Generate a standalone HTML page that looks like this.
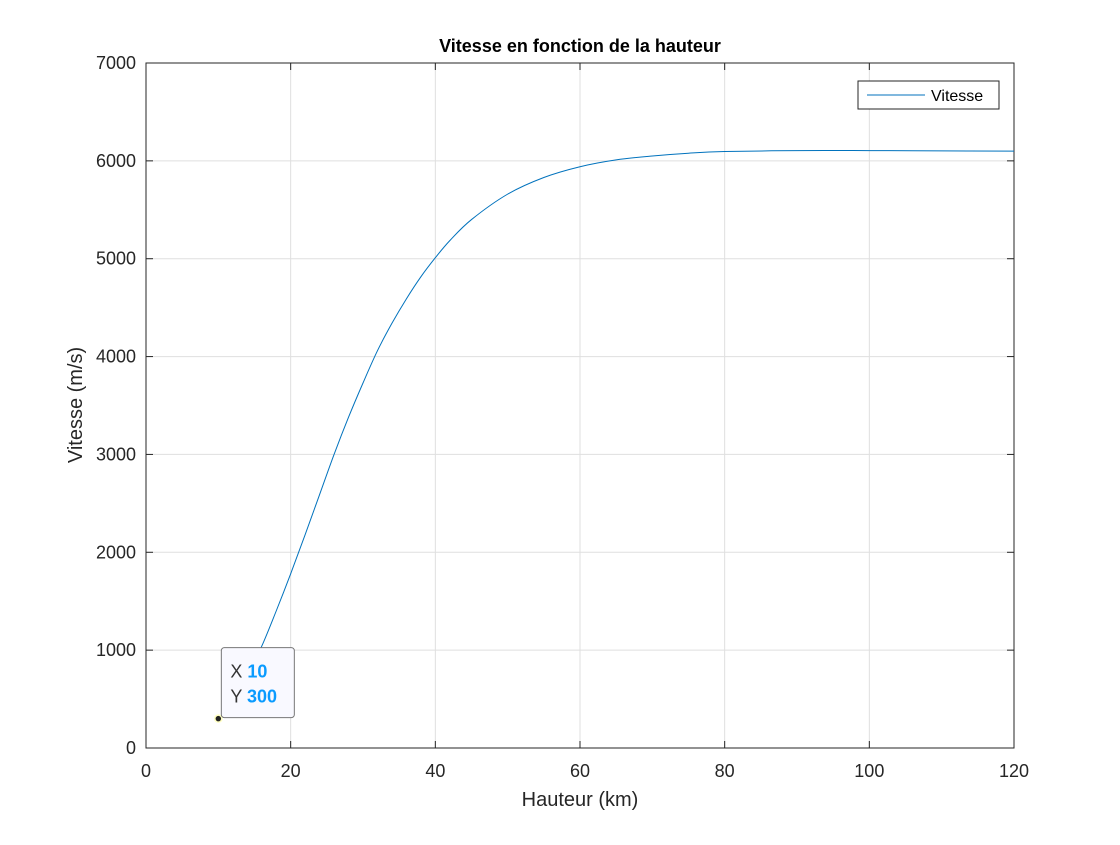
<!DOCTYPE html>
<html><head><meta charset="utf-8"><style>
body{margin:0;background:#fff;font-family:"Liberation Sans",sans-serif}
svg text{font-family:"Liberation Sans",sans-serif}
</style></head><body>
<svg id="c" width="1120" height="840" xmlns="http://www.w3.org/2000/svg">
<rect width="1120" height="840" fill="#fff"/>
<g id="grid"></g>
<rect x="146" y="63" width="868" height="685" fill="none" stroke="#262626" stroke-width="1"/>
<g id="ticks"></g>
<path id="line" fill="none" stroke="#0072bd" stroke-width="1"/>
<text x="580" y="52" text-anchor="middle" font-size="18" font-weight="bold" fill="#000">Vitesse en fonction de la hauteur</text>
<text x="580" y="806" text-anchor="middle" font-size="20" fill="#262626">Hauteur (km)</text>
<text transform="translate(82,405) rotate(-90)" text-anchor="middle" font-size="20" fill="#262626">Vitesse (m/s)</text>
<g>
<rect x="858" y="81" width="141" height="28" fill="#fff" stroke="#262626"/>
<line x1="867" y1="95" x2="925" y2="95" stroke="#0072bd"/>
<text x="931" y="101" font-size="16" fill="#000">Vitesse</text>
</g>
<g id="tip">
<circle id="tipdot" r="3.5" fill="#222" stroke="#ffffc0" stroke-width="1.5"/>
<rect id="tiprect" width="73" height="70" rx="3" fill="#f9f9ff" stroke="#777"/>
<text id="tx" font-size="18" fill="#333"><tspan>X </tspan><tspan id="txv" fill="#0a9bff" font-weight="bold"></tspan></text>
<text id="ty" font-size="18" fill="#333"><tspan>Y </tspan><tspan id="tyv" fill="#0a9bff" font-weight="bold"></tspan></text>
</g>
</svg>
<script>
const xTicks=[0,20,40,60,80,100,120];
const yTicks=[0,1000,2000,3000,4000,5000,6000,7000];
const hauteur=[10,12,14,16,18,20,22,24,26,28,30,32,34,36,38,40,42,45,50,55,60,65,70,75,80,90,100,110,120];
const vitesse=[300,470,740,1040,1400,1780,2180,2590,3000,3380,3730,4060,4340,4590,4815,5010,5185,5400,5660,5830,5940,6010,6050,6078,6095,6105,6105,6102,6100];
const tipPoint=[10,300];
const X=v=>146+v/120*868, Y=v=>748-v/7000*685;
const ns="http://www.w3.org/2000/svg";
const g=document.getElementById('grid'),t=document.getElementById('ticks');
function mk(p,tag,a){const e=document.createElementNS(ns,tag);for(const k in a)e.setAttribute(k,a[k]);p.appendChild(e);return e;}
xTicks.forEach(v=>{
 const l=mk(g,'line',{x1:X(v),x2:X(v),y1:63,y2:748,stroke:'#dfdfdf'});
 
 
 mk(t,'line',{x1:X(v),x2:X(v),y1:748,y2:741,stroke:'#262626'});
 mk(t,'line',{x1:X(v),x2:X(v),y1:63,y2:70,stroke:'#262626'});
 const e=mk(t,'text',{x:X(v),y:777,'text-anchor':'middle','font-size':18,fill:'#262626'});
 e.textContent=v;
 
 
});
yTicks.forEach(v=>{
 const l=mk(g,'line',{x1:146,x2:1014,y1:Y(v),y2:Y(v),stroke:'#dfdfdf'});
 
 
 mk(t,'line',{x1:146,x2:153,y1:Y(v),y2:Y(v),stroke:'#262626'});
 mk(t,'line',{x1:1014,x2:1007,y1:Y(v),y2:Y(v),stroke:'#262626'});
 const e=mk(t,'text',{x:136,y:Y(v)+6,'text-anchor':'end','font-size':18,fill:'#262626'});
 e.textContent=v;
 
 
});
const P=hauteur.map((h,i)=>[X(h),Y(vitesse[i])]);
let d='M'+P[0][0]+','+P[0][1];
for(let i=0;i<P.length-1;i++){
 const p0=P[Math.max(0,i-1)],p1=P[i],p2=P[i+1],p3=P[Math.min(P.length-1,i+2)];
 const c1=[p1[0]+(p2[0]-p0[0])/6,p1[1]+(p2[1]-p0[1])/6],c2=[p2[0]-(p3[0]-p1[0])/6,p2[1]-(p3[1]-p1[1])/6];
 d+=` C${c1[0]},${c1[1]} ${c2[0]},${c2[1]} ${p2[0]},${p2[1]}`;
}
document.getElementById('line').setAttribute('d',d);
const tx=X(tipPoint[0]),ty=Y(tipPoint[1]);
const dot=document.getElementById('tipdot');dot.setAttribute('cx',tx);dot.setAttribute('cy',ty);
const r=document.getElementById('tiprect');r.setAttribute('x',tx+3);r.setAttribute('y',ty-71);
document.getElementById('tx').setAttribute('x',tx+12);document.getElementById('tx').setAttribute('y',ty-41);
document.getElementById('ty').setAttribute('x',tx+12);document.getElementById('ty').setAttribute('y',ty-16);
document.getElementById('txv').textContent=tipPoint[0];
document.getElementById('tyv').textContent=tipPoint[1];
document.getElementById('c').appendChild(document.getElementById('tip'));
</script>
</body></html>
